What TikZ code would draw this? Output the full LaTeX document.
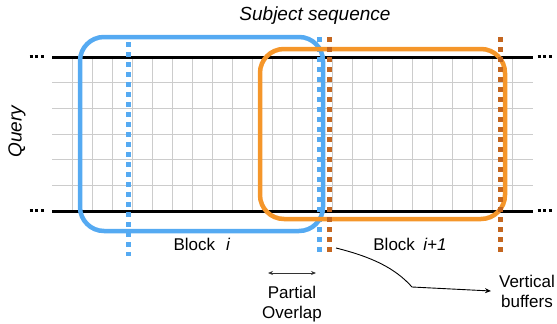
\documentclass[tikz,border=0pt]{standalone}
\usepackage{fontspec}
\setmainfont{Liberation Sans}
\usetikzlibrary{arrows.meta}
\definecolor{blk}{HTML}{55AAF2}
\definecolor{ork}{HTML}{F5962A}
\definecolor{brn}{HTML}{C4661F}
\definecolor{grd}{HTML}{CCCCCC}
\tikzset{
  gridline/.style={grd, line width=1pt},
  seqline/.style={black, line width=3pt},
  ellip/.style={black, line width=3pt, dash pattern=on 3pt off 2.7pt},
  blockbox/.style={line width=4.5pt, rounded corners=24pt},
  buffer/.style={line width=5pt, dash pattern=on 5pt off 5pt},
  lbl/.style={font=\fontsize{17}{20}\selectfont, inner sep=0pt, anchor=base},
  biglbl/.style={font=\fontsize{19}{22}\selectfont\itshape, inner sep=0pt},
}
\begin{document}
\begin{tikzpicture}[x=1pt,y=-1pt]
\useasboundingbox (0,0) rectangle (557,324);
% grid
\foreach \k in {0,...,22} {
  \draw[gridline] (72+20*\k,57) -- (72+20*\k,211);
}
\foreach \k in {1,...,5} {
  \draw[gridline] (52,57+25.67*\k) -- (533,57+25.67*\k);
}
% sequence borders
\draw[seqline] (52,57) -- (533,57);
\draw[seqline] (52,211) -- (533,211);
\draw[ellip] (29.5,56.5) -- (45,56.5);
\draw[ellip] (537.5,56.5) -- (553,56.5);
\draw[ellip] (29.5,210.5) -- (45,210.5);
\draw[ellip] (537.5,210.5) -- (553,210.5);
% blocks
\draw[blockbox, blk] (80,37) rectangle (323,231);
\draw[buffer, blk] (128,42) -- (128,256);
\draw[buffer, blk] (319,37) -- (319,256);
\draw[blockbox, ork] (260,49) rectangle (505,219);
\draw[buffer, brn] (329,37) -- (329,256);
\draw[buffer, brn] (500,37) -- (500,256);
% labels
\node[biglbl, anchor=base] (subj) at (315,20) {Subject sequence};
\node[biglbl, rotate=90] (query) at (17,131.5) {Query};
\node[lbl] (bi) at (202,250) {Block\hspace{0.65em}\textit{i}};
\node[lbl] (bi1) at (410,250) {Block\hspace{0.5em}\textit{i+1}};
\node[lbl] (part) at (292,298) {Partial};
\node[lbl] (over) at (292,318) {Overlap};
\node[lbl] (vert) at (527,287) {Vertical};
\node[lbl] (buf) at (527,307) {buffers};
% connectors
\coordinate (ovl) at (268,273);
\coordinate (ovr) at (316,273);
\draw[{Stealth[length=5pt,width=4pt]}-{Stealth[length=5pt,width=4pt]}, line width=0.8pt, black!80] (ovl) -- (ovr);
\coordinate (cs) at (336,248);
\coordinate (cm) at (412,287);
\coordinate (ce) at (491,291);
\draw[-{Stealth[length=6pt,width=5pt]}, line width=0.9pt] (cs) .. controls (372,257) and (395,268) .. (cm) -- (ce);
\end{tikzpicture}
\end{document}
